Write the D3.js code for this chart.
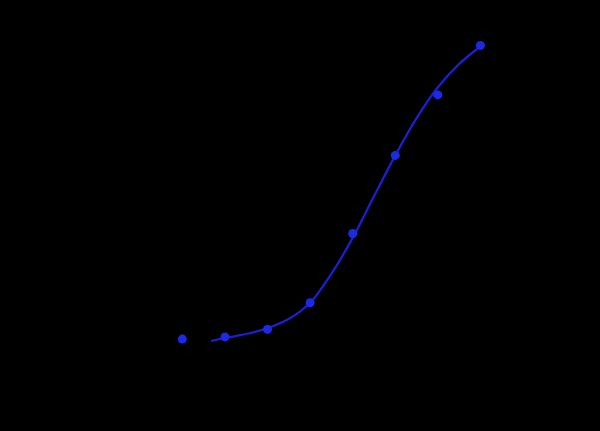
<!DOCTYPE html>
<html>
<head>
<meta charset="utf-8">
<script src="https://cdn.jsdelivr.net/npm/d3@7"></script>
<style>
  html, body { margin: 0; padding: 0; background: #000; }
  svg { display: block; }
</style>
</head>
<body>
<div id="vis"></div>
<script>
// standard concentrations and measured signal
const concentrations = [0.156, 0.3125, 0.625, 1.25, 2.5, 5, 10, 20];
const measured = [0.19, 0.21, 0.28, 0.52, 1.15, 1.86, 2.41, 2.86];

// fitted curve
const fitX = [0.249, 0.3125, 0.44, 0.625, 0.9, 1.25, 1.78, 2.5, 3.54, 5, 7.0, 10, 14.1, 20];
const fitY = [0.173, 0.20, 0.236, 0.29, 0.38, 0.52, 0.79, 1.11, 1.49, 1.86, 2.19, 2.48, 2.69, 2.85];

const FRAME_WIDTH = 600;
const FRAME_HEIGHT = 431;
const MARGINS = {left: 155, right: 77, top: 30, bottom: 71};

const FRAME = d3.select("#vis")
    .append("svg")
    .attr("width", FRAME_WIDTH)
    .attr("height", FRAME_HEIGHT);

FRAME.append("rect")
    .attr("width", FRAME_WIDTH)
    .attr("height", FRAME_HEIGHT)
    .attr("fill", "#000");

const X_SCALE = d3.scaleLog()
    .domain([0.1, 40])
    .range([MARGINS.left, FRAME_WIDTH - MARGINS.right]);

const Y_SCALE = d3.scaleLinear()
    .domain([0, 3])
    .range([FRAME_HEIGHT - MARGINS.bottom, MARGINS.top]);

// axes are black on the black background, as in the reference
const xAxis = FRAME.append("g")
    .attr("transform", "translate(0," + (FRAME_HEIGHT - MARGINS.bottom) + ")")
    .call(d3.axisBottom(X_SCALE).ticks(4, "~g"));
const yAxis = FRAME.append("g")
    .attr("transform", "translate(" + MARGINS.left + ",0)")
    .call(d3.axisLeft(Y_SCALE).ticks(6));
[xAxis, yAxis].forEach(a => {
    a.selectAll("path, line").attr("stroke", "#000");
    a.selectAll("text").attr("fill", "#000");
});

const fit = fitX.map((x, i) => ({x: x, y: fitY[i]}));

FRAME.append("path")
    .datum(fit)
    .attr("fill", "none")
    .attr("stroke", "#1e1ed6")
    .attr("stroke-width", 2.2)
    .attr("d", d3.line()
        .x(d => X_SCALE(d.x))
        .y(d => Y_SCALE(d.y))
        .curve(d3.curveCatmullRom));

FRAME.selectAll(".pt")
    .data(concentrations)
    .enter()
    .append("circle")
    .attr("class", "pt")
    .attr("cx", d => X_SCALE(d))
    .attr("cy", (d, i) => Y_SCALE(measured[i]))
    .attr("r", 4.5)
    .attr("fill", "#1c2ae6");
</script>
</body>
</html>
